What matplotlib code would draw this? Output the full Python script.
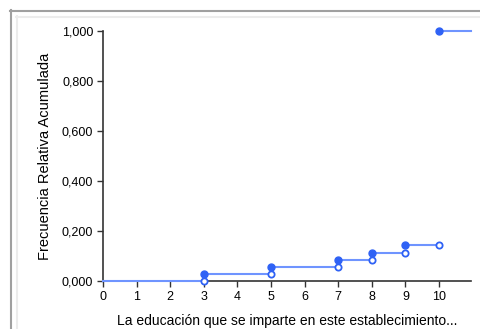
import matplotlib
matplotlib.use("Agg")
import matplotlib.pyplot as plt
from matplotlib.lines import Line2D

plt.rcParams['font.family'] = ['Liberation Sans', 'DejaVu Sans']

# steps of the cumulative relative frequency
valores = [3, 5, 7, 8, 9, 10]
frec_acum = [0.029, 0.057, 0.086, 0.114, 0.143, 1.000]
x_ticks = list(range(0, 11))
y_ticks = [0.0, 0.2, 0.4, 0.6, 0.8, 1.0]
y_labels = ["0,000", "0,200", "0,400", "0,600", "0,800", "1,000"]
x_max = 10.95

line_col = '#6f94ff'
dot_col = '#2f62f5'

fig = plt.figure(figsize=(4.81, 3.29), dpi=100)
W, H = 481, 329

# outer frame lines
fig.add_artist(Line2D([10.5 / W, 10.5 / W], [0, 1 - 10 / H], color='#a0a0a0', lw=1.5))
fig.add_artist(Line2D([10 / W, 1], [1 - 10.5 / H, 1 - 10.5 / H], color='#a0a0a0', lw=1.5))
fig.add_artist(Line2D([16.5 / W, 16.5 / W], [0, 1 - 16 / H], color='#ececec', lw=1.5))
fig.add_artist(Line2D([16 / W, 1], [1 - 16.5 / H, 1 - 16.5 / H], color='#ececec', lw=1.5))

ax = fig.add_axes([103 / W, 1 - 281 / H, (471 - 103) / W, 250 / H])

# horizontal segments
prev_x, prev_y = 0, 0.0
ax.plot([prev_x, valores[0]], [prev_y, prev_y], color=line_col, lw=1.5, clip_on=False, zorder=3)
for i, (xv, yv) in enumerate(zip(valores, frec_acum)):
    nxt = valores[i + 1] if i + 1 < len(valores) else x_max
    ax.plot([xv, nxt], [yv, yv], color=line_col, lw=1.5, clip_on=False, zorder=3)
    # open circle at previous level
    ax.plot([xv], [prev_y], 'o', ms=4.5, mfc='white', mec=dot_col, mew=1.3, clip_on=False, zorder=4)
    # filled circle at new level
    ax.plot([xv], [yv], 'o', ms=5, color=dot_col, clip_on=False, zorder=4)
    prev_y = yv

ax.set_xlim(0, x_max)
ax.set_ylim(0, 1)
ax.set_xticks(x_ticks)
ax.set_yticks(y_ticks)
ax.set_yticklabels(y_labels)
ax.spines['top'].set_visible(False)
ax.spines['right'].set_visible(False)
for s in ['left', 'bottom']:
    ax.spines[s].set_color('#333333')
    ax.spines[s].set_linewidth(1.2)
ax.tick_params(axis='both', colors='#333333', labelcolor='black', labelsize=9,
               length=4, width=1, direction='out', pad=3)
ax.set_ylabel("Frecuencia Relativa Acumulada", fontsize=10.5, labelpad=7)
ax.set_xlabel("La educación que se imparte en este establecimiento...", fontsize=10, labelpad=8)

fig.savefig("out.png", dpi=100)
